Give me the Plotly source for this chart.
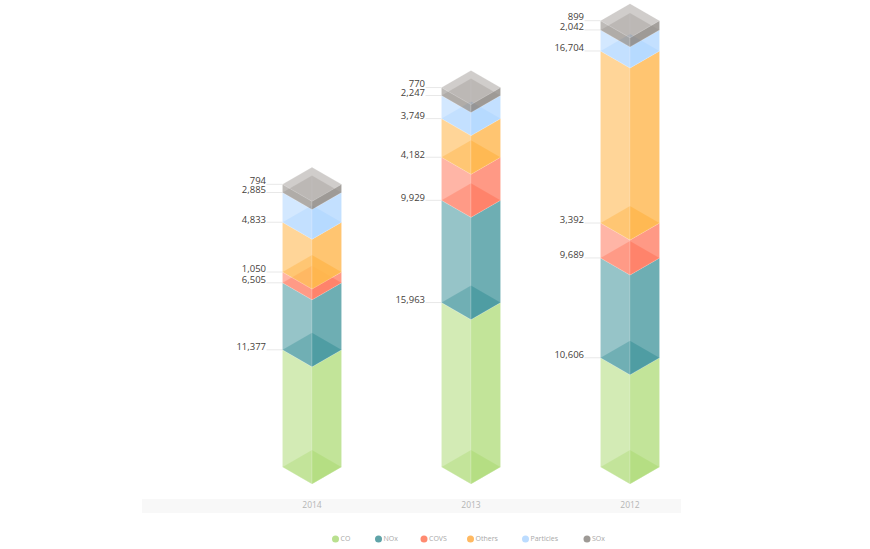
import plotly.graph_objects as go

years = ["2014", "2013", "2012"]
series_names = ["CO", "NOx", "COVS", "Others", "Particles", "SOx"]

co = [11377, 15963, 10606]
nox = [6505, 9929, 9689]
covs = [1050, 4182, 3392]
others = [4833, 3749, 16704]
particles = [2885, 2247, 2042]
sox = [794, 770, 899]

series_values = [co, nox, covs, others, particles, sox]
series_colors = ["179,221,128", "74,154,160", "255,127,102", "255,183,77", "180,216,255", "143,137,132"]
legend_colors = ["#b9e08f", "#5fa3a8", "#ff8a70", "#ffb961", "#bcdcff", "#9e9a96"]

# layout, pixels of the 870x549 page
WIDTH = 870
HEIGHT = 549
BAR_CENTERS = [312, 471, 630]
HALF_WIDTH = 29.5
BASE_PX = 467
PX_PER_UNIT = 0.0103
DEPTH_PX = 17
LEGEND_X = [335.5, 378.5, 424, 470.5, 525.5, 587]


def px_to_y(py):
    return (BASE_PX - py) / PX_PER_UNIT


DEPTH = DEPTH_PX / PX_PER_UNIT

fig = go.Figure()


def poly(xs, ys, color):
    fig.add_trace(go.Scatter(
        x=xs + xs[:1], y=ys + ys[:1], mode="lines", fill="toself",
        fillcolor=color, line=dict(color="rgba(255,255,255,0.25)", width=0.5),
        hoverinfo="skip", showlegend=False,
    ))


def prism(cx, bottom, top, rgb, is_last):
    left, right = cx - HALF_WIDTH, cx + HALF_WIDTH
    # bottom diamond, seen through the front faces; the grey cap is lighter
    alpha_l, alpha_r = (0.3, 0.3) if is_last else (0.5, 0.85)
    poly([left, cx, cx], [bottom, bottom + DEPTH, bottom - DEPTH], f"rgba({rgb},{alpha_l})")
    poly([right, cx, cx], [bottom, bottom + DEPTH, bottom - DEPTH], f"rgba({rgb},{alpha_r})")
    # front faces
    poly([left, cx, cx, left], [bottom, bottom - DEPTH, top - DEPTH, top], f"rgba({rgb},0.58)")
    poly([right, cx, cx, right], [bottom, bottom - DEPTH, top - DEPTH, top], f"rgba({rgb},0.8)")
    if is_last:
        poly([left, cx, right, cx], [top, top + DEPTH, top, top - DEPTH], f"rgba({rgb},0.42)")


for b, cx in enumerate(BAR_CENTERS):
    running = 0
    label_x, label_y, label_text = [], [], []
    for s, values in enumerate(series_values):
        bottom = running
        running += values[b]
        is_last = s == len(series_values) - 1
        prism(cx, bottom, running, series_colors[s], is_last)
        # leader line from the label to the top of the segment
        fig.add_trace(go.Scatter(
            x=[cx - HALF_WIDTH - 16, cx - HALF_WIDTH], y=[running, running], mode="lines",
            line=dict(color="#e8e8e8", width=1), hoverinfo="skip", showlegend=False,
        ))
        label_x.append(cx - HALF_WIDTH - 16.5)
        label_y.append(running + (3 if is_last else 2) / PX_PER_UNIT)
        label_text.append(f"{values[b]:,}")
    fig.add_trace(go.Scatter(
        x=label_x, y=label_y, text=label_text, mode="text", textposition="middle left",
        textfont=dict(family="Open Sans", size=9.5, color="#45413b"),
        hoverinfo="skip", showlegend=False,
    ))

# year labels on the grey band
fig.add_shape(type="rect", x0=142, x1=681, y0=px_to_y(499), y1=px_to_y(513),
              fillcolor="#f8f8f8", line=dict(width=0), layer="below")
fig.add_trace(go.Scatter(
    x=BAR_CENTERS, y=[px_to_y(506)] * 3, text=years, mode="text", textposition="middle center",
    textfont=dict(family="Open Sans", size=8.5, color="#b5b5b5"),
    hoverinfo="skip", showlegend=False,
))

# legend
fig.add_trace(go.Scatter(
    x=LEGEND_X, y=[px_to_y(539)] * 6, mode="markers",
    marker=dict(size=7, color=legend_colors, line=dict(width=0)),
    hoverinfo="skip", showlegend=False,
))
fig.add_trace(go.Scatter(
    x=[v + 5 for v in LEGEND_X], y=[px_to_y(539.5)] * 6, text=series_names, mode="text",
    textposition="middle right",
    textfont=dict(family="Open Sans", size=7, color="#a8a8a8"),
    hoverinfo="skip", showlegend=False,
))

fig.update_layout(
    width=WIDTH, height=HEIGHT,
    margin=dict(l=0, r=0, t=0, b=0),
    paper_bgcolor="white", plot_bgcolor="white",
    xaxis=dict(range=[0, WIDTH], visible=False, fixedrange=True),
    yaxis=dict(range=[px_to_y(HEIGHT), px_to_y(0)], visible=False, fixedrange=True),
)

# the page's default 8px body margin would shift the whole chart
fig.write_html("out.html", config={"displayModeBar": False},
               post_script="document.body.style.margin='0';")
